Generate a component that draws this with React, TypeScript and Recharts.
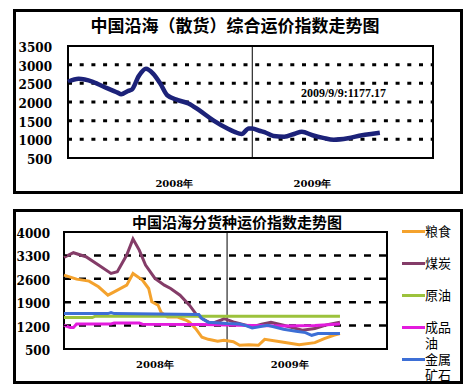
import React from 'react';
import { LineChart, Line, XAxis, YAxis, ReferenceLine, ReferenceArea } from 'recharts';

// x values are weeks counted from the first week of 2008 (week 52 = start of 2009)
const compositeWeeks = [0, 3, 7, 11, 14, 15, 17, 18, 20, 22, 24, 26, 28, 31, 34, 37, 41, 45, 47, 49, 51, 52, 54, 56, 58, 61, 64, 66, 69, 72, 75, 79, 83, 86, 88];
const compositeIndex = [2540, 2620, 2540, 2370, 2250, 2210, 2300, 2330, 2700, 2890, 2760, 2500, 2180, 2050, 1960, 1780, 1510, 1290, 1200, 1140, 1290, 1290, 1230, 1170, 1090, 1070, 1150, 1200, 1110, 1040, 990, 1030, 1110, 1150, 1177.17];

const grainWeeks = [0, 4, 8, 11, 14, 16, 20, 22, 25, 27, 28, 30, 31, 33, 36, 39, 40, 42, 44, 46, 49, 51, 54, 56, 59, 62, 64, 70, 75, 80, 83, 86, 88];
const grainIndex = [2710, 2590, 2530, 2360, 2110, 2210, 2410, 2760, 2560, 2310, 1910, 1810, 1590, 1460, 1460, 1360, 1300, 1110, 850, 790, 730, 760, 720, 610, 630, 610, 790, 700, 630, 690, 810, 910, 960];

const coalWeeks = [0, 3, 7, 11, 15, 17, 20, 22, 24, 26, 29, 32, 34, 37, 40, 42, 44, 47, 50, 51, 54, 58, 60, 63, 66, 70, 76, 80, 84, 88];
const coalIndex = [3240, 3380, 3260, 3010, 2760, 2810, 3310, 3790, 3460, 3010, 2610, 2410, 2310, 2110, 1810, 1560, 1410, 1260, 1360, 1410, 1310, 1210, 1160, 1240, 1300, 1210, 1060, 1110, 1230, 1300];

const crudeWeeks = [0, 9, 10, 88];
const crudeIndex = [1440, 1440, 1480, 1480];

const productWeeks = [0, 2, 3, 4, 15, 16, 24, 25, 44, 52, 60, 70, 80, 88];
const productIndex = [1210, 1140, 1140, 1250, 1250, 1275, 1275, 1240, 1230, 1220, 1200, 1190, 1200, 1250];

const metalWeeks = [0, 14, 15, 16, 43, 44, 46, 52, 56, 58, 60, 65, 70, 74, 77, 79, 81, 88];
const metalIndex = [1560, 1560, 1590, 1560, 1530, 1410, 1300, 1260, 1250, 1200, 1130, 1210, 1090, 1030, 990, 910, 960, 960];

const topTicks = [500, 1000, 1500, 2000, 2500, 3000, 3500];
const topGrid = [1000, 1500, 2000, 2500, 3000];
const bottomTicks = [500, 1200, 1900, 2600, 3300, 4000];
const bottomGrid = [1200, 1900, 2600, 3300];
const yearLabels = ['2008年', '2009年'];
const topYearTicks = [30, 69];
const bottomYearTicks = [29, 72];
const yearStart2009 = 52;
const lastWeek = 103;

const topTitle = '中国沿海（散货）综合运价指数走势图';
const bottomTitle = '中国沿海分货种运价指数走势图';
const annotation = '2009/9/9:1177.17';

const zip = (weeks: number[], vals: number[]) => weeks.map((w, i) => ({ week: w, value: vals[i] }));

const series = [
  { name: '粮食', color: '#F4A22D', data: zip(grainWeeks, grainIndex) },
  { name: '煤炭', color: '#843C68', data: zip(coalWeeks, coalIndex) },
  { name: '原油', color: '#9CC23C', data: zip(crudeWeeks, crudeIndex) },
  { name: '成品油', color: '#E31BDD', data: zip(productWeeks, productIndex) },
  { name: '金属矿石', color: '#3D6FD6', data: zip(metalWeeks, metalIndex) },
];

const cjk = '"Noto Sans CJK SC", sans-serif';
const serif = '"DejaVu Serif", serif';

const yTick = (gap: number) => (props: any) => {
  const { x, y, payload } = props;
  return (
    <g>
      <text x={x - gap} y={y} dy={6} textAnchor="end" fontFamily={serif} fontWeight="bold" fontSize={12} fill="#000">
        {payload.value}
      </text>
      <line x1={x} x2={x + 3} y1={y} y2={y} stroke="#000" strokeWidth={1} />
    </g>
  );
};

const yearTick = (ticks: number[], drop: number) => (props: any) => {
  const { x, y, payload } = props;
  return (
    <text x={x} y={y + drop} textAnchor="middle" fontFamily={serif} fontWeight="bold" fontSize={10} fill="#000">
      {yearLabels[ticks.indexOf(payload.value)]}
    </text>
  );
};

const frame: React.CSSProperties = { position: 'absolute', left: 13, width: 444, border: '3px solid #000' };

export default function App() {
  const composite = zip(compositeWeeks, compositeIndex);

  return (
    <div style={{ position: 'absolute', left: 0, top: 0, width: 467, height: 387, background: '#fff', overflow: 'hidden' }}>
      <div style={{ ...frame, top: 9, height: 179 }} />
      <div style={{ ...frame, top: 209, height: 169 }} />

      <div style={{ position: 'absolute', left: 0, top: 15, width: 470, textAlign: 'center', fontFamily: cjk, fontWeight: 700, fontSize: 17, lineHeight: '20px' }}>
        {topTitle}
      </div>
      <div style={{ position: 'absolute', left: 0, top: 212, width: 474, textAlign: 'center', fontFamily: cjk, fontWeight: 700, fontSize: 15, lineHeight: '20px' }}>
        {bottomTitle}
      </div>

      <div style={{ position: 'absolute', left: 0, top: 0 }}>
        <LineChart width={467} height={200} data={composite} margin={{ top: 46, right: 34, left: 18, bottom: 12 }}>
          <XAxis dataKey="week" type="number" domain={[0, lastWeek]} ticks={topYearTicks} interval={0} height={30}
            axisLine={false} tickLine={false} tickSize={0} tickMargin={0} tick={yearTick(topYearTicks, 29)} />
          <YAxis type="number" domain={[500, 3500]} ticks={topTicks} interval={0} width={50}
            axisLine={false} tickLine={false} tickSize={0} tickMargin={0} tick={yTick(16)} />
          {topGrid.map((v) => (
            <ReferenceLine key={v} y={v} stroke="#000" strokeWidth={3} strokeDasharray="4 7.7" />
          ))}
          <ReferenceArea x1={57} x2={lastWeek} y1={1830} y2={2690} fill="#fff" fillOpacity={1} stroke="none"
            label={{ value: annotation, position: 'insideLeft', offset: 31, fill: '#000', fontSize: 12, fontFamily: '"Liberation Serif", serif', fontWeight: 'bold' }} />
          <ReferenceLine x={yearStart2009} stroke="#000" strokeWidth={1} />
          <Line type="monotone" dataKey="value" stroke="#1C2279" strokeWidth={4.5} dot={false} isAnimationActive={false} />
          <ReferenceArea x1={0} x2={lastWeek} y1={500} y2={3500} fill="none" stroke="#000" strokeWidth={2} />
        </LineChart>
      </div>

      <div style={{ position: 'absolute', left: 0, top: 200 }}>
        <LineChart width={467} height={187} margin={{ top: 32, right: 80, left: 14, bottom: 8 }}>
          <XAxis dataKey="week" type="number" domain={[0, lastWeek]} ticks={bottomYearTicks} interval={0} height={30}
            axisLine={false} tickLine={false} tickSize={0} tickMargin={0} tick={yearTick(bottomYearTicks, 19)} />
          <YAxis type="number" domain={[500, 4000]} ticks={bottomTicks} interval={0} width={50}
            axisLine={false} tickLine={false} tickSize={0} tickMargin={0} tick={yTick(14)} />
          {bottomGrid.map((v) => (
            <ReferenceLine key={v} y={v} stroke="#000" strokeWidth={2.5} strokeDasharray="7 8" />
          ))}
          <ReferenceLine x={yearStart2009} stroke="#000" strokeWidth={1} />
          {series.map((s) => (
            <Line key={s.name} data={s.data} type="linear" dataKey="value" name={s.name} stroke={s.color}
              strokeWidth={3} dot={false} isAnimationActive={false} />
          ))}
          <ReferenceArea x1={0} x2={lastWeek} y1={500} y2={4000} fill="none" stroke="#000" strokeWidth={2} />
        </LineChart>
      </div>

      <div style={{ position: 'absolute', left: 402, top: 223 }}>
        {series.map((s) => (
          <div key={s.name} style={{ display: 'flex', alignItems: 'flex-start', height: 32 }}>
            <div style={{ width: 23, height: 3, marginTop: 6.5, background: s.color }} />
            <div style={{ width: 28, fontFamily: cjk, fontSize: 13, lineHeight: '16px', wordBreak: 'break-all' }}>{s.name}</div>
          </div>
        ))}
      </div>
    </div>
  );
}
